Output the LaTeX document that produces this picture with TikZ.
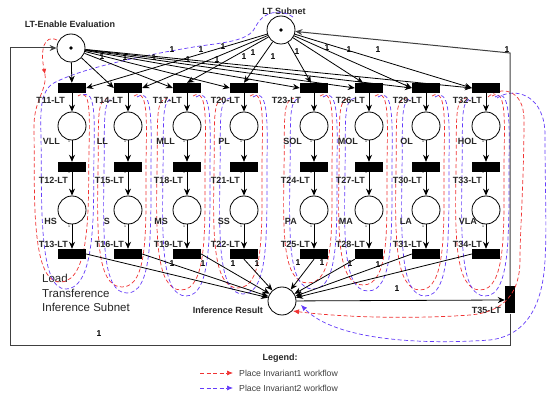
\documentclass[tikz,border=0pt]{standalone}
\usepackage{fontspec}
\setmainfont{Liberation Sans}
\usetikzlibrary{arrows.meta}
\definecolor{invred}{RGB}{240,50,50}
\definecolor{invblue}{RGB}{100,60,250}
\begin{document}
\begin{tikzpicture}[x=1pt,y=-1pt,
  place/.style={circle,draw,line width=0.8pt,minimum size=28pt,inner sep=0pt},
  token/.style={circle,fill,inner sep=0pt,minimum size=3.6pt},
  trans/.style={fill=black,minimum width=28pt,minimum height=10pt,inner sep=0pt},
  vtrans/.style={fill=black,minimum width=10pt,minimum height=27pt,inner sep=0pt},
  arc/.style={-{Stealth[length=7pt,width=6pt]},line width=0.8pt},
  frameline/.style={-{Stealth[length=7pt,width=6pt]},line width=1pt,black!75},
  lbl/.style={font=\fontsize{9}{10}\selectfont\bfseries,text=black!85,inner sep=0pt},
  one/.style={font=\fontsize{8.5}{9}\selectfont\bfseries,inner sep=0pt},
  tinyone/.style={font=\fontsize{3.5}{4}\selectfont,inner sep=0pt},
  inv1/.style={invred,dash pattern=on 4pt off 2.5pt,line width=0.7pt},
  inv2/.style={invblue,dash pattern=on 4pt off 2.5pt,line width=0.7pt}]
\useasboundingbox (0,0) rectangle (550,401);
\fill[white] (0,0) rectangle (550,401);

% main places
\node[place] (le) at (71,48) {};
\node[token] (ledot) at (le) {};
\node[place] (lts) at (281,30) {};
\node[token] (ltsdot) at (lts) {};
\node[place] (ir) at (282,301) {};
\node[vtrans] (t35) at (510,300) {};

\node[lbl] (lelab) at (70,24) {LT-Enable Evaluation};
\node[lbl] (ltslab) at (284,11) {LT Subnet};
\node[lbl,anchor=east] (irlab) at (263,310) {Inference Result};
\node[lbl,anchor=east] (t35lab) at (501,310) {T35-LT};
\node[anchor=north west,align=left,inner sep=0pt,text=black!85,
  font=\fontsize{11.5}{14.5}\selectfont] (loadlab) at (42,274) {Load\\Transference\\Inference Subnet};

% invariant workflows: column 1 and feeds
\draw[inv1,-{Latex[length=5pt,width=4.5pt]}] (57,40) .. controls (44,34) and (40,50) .. (45,74);
\draw[inv1] (45,74) .. controls (47,92) and (33,100) .. (34,130)
  .. controls (35,190) and (30,282) .. (60,282) .. controls (92,282) and (88,200) .. (89,150)
  .. controls (90,110) and (90,88) .. (78,96);
\draw[inv2] (293,17) .. controls (281,8) and (262,12) .. (256,26)
  .. controls (250,40) and (230,42) .. (200,46) .. controls (150,54) and (80,68) .. (52,84)
  .. controls (42,92) and (40,105) .. (41,135)
  .. controls (42,200) and (38,290) .. (66,289) .. controls (98,288) and (93,200) .. (94,150)
  .. controls (95,110) and (94,88) .. (81,96);

% invariant workflows: columns 2..8
\foreach \c/\B in {128/287,187/290,244/288,314/283,369/285,426/290,486/290}{
  \draw[inv1] (\c+6,96) .. controls (\c+22,86) and (\c+18,130) .. (\c+18,170)
    .. controls (\c+18,230) and (\c+20,\B) .. (\c-6,\B)
    .. controls (\c-32,\B) and (\c-31,230) .. (\c-30,170)
    .. controls (\c-29,120) and (\c-32,100) .. (\c-20,98);
  \draw[inv2] (\c+9,97) .. controls (\c+26,86) and (\c+23,130) .. (\c+23,170)
    .. controls (\c+23,236) and (\c+24,\B+6) .. (\c-1,\B+6)
    .. controls (\c-26,\B+6) and (\c-25,236) .. (\c-24,170)
    .. controls (\c-23,120) and (\c-26,100) .. (\c-14,98);
}

% return workflows to Inference Result
\coordinate (redend) at (293,311);
\coordinate (blueend) at (301,305);
\draw[inv1,-{Latex[length=6pt,width=5pt]}] (488,97) .. controls (500,86) and (524,88) .. (524,120)
  .. controls (524,180) and (520,230) .. (520,260)
  .. controls (520,292) and (505,312) .. (470,315) .. controls (400,320) and (330,316) .. (redend);
\draw[inv2,-{Latex[length=6pt,width=5pt]}] (497,98) .. controls (515,86) and (545,95) .. (545,135)
  .. controls (545,190) and (547,230) .. (545,260)
  .. controls (543,300) and (530,335) .. (490,340) .. controls (420,345) and (335,340) .. (blueend);

% columns
\foreach \i/\c/\ta/\pa/\tb/\pb/\tc/\oa/\ob/\oc in {
1/72/T11-LT/VLL/T12-LT/HS/T13-LT/7/12/15,
2/128/T14-LT/LL/T15-LT/S/T16-LT/5/20/18,
3/187/T17-LT/MLL/T18-LT/MS/T19-LT/5/12/19,
4/244/T20-LT/PL/T21-LT/SS/T22-LT/4/14/14,
5/314/T23-LT/SOL/T24-LT/PA/T25-LT/13/12/17,
6/369/T26-LT/MOL/T27-LT/MA/T28-LT/4/11/16,
7/426/T29-LT/OL/T30-LT/LA/T31-LT/4/13/14,
8/486/T32-LT/HOL/T33-LT/VLA/T34-LT/4/9/9}{
  \node[trans] (ta\i) at (\c,88) {};
  \node[place,fill=white] (pa\i) at (\c,126) {};
  \node[trans] (tb\i) at (\c,167) {};
  \node[place,fill=white] (pb\i) at (\c,210) {};
  \node[trans] (tc\i) at (\c,254) {};
  \node[lbl,anchor=east] (lta\i) at (\c-\oa,100) {\ta};
  \node[lbl,anchor=east] (lpa\i) at (\c-\ob,141) {\pa};
  \node[lbl,anchor=east] (ltb\i) at (\c-4,180) {\tb};
  \node[lbl,anchor=east] (lpb\i) at (\c-\oc,221) {\pb};
  \node[lbl,anchor=east] (ltc\i) at (\c-4,244) {\tc};
  \node[tinyone] (wa\i) at (\c-3,141) {1};
  \node[tinyone] (wb\i) at (\c-3,172) {1};
  \node[tinyone] (wc\i) at (\c-3,226) {1};
  \draw[arc] (ta\i) -- (pa\i);
  \draw[arc] (pa\i) -- (tb\i);
  \draw[arc] (tb\i) -- (pb\i);
  \draw[arc] (pb\i) -- (tc\i);
}

% arcs from LT-Enable Evaluation
\draw[arc] (le) -- (ta1);
\foreach \i in {2,...,8} {\draw[arc] (le) -- (ta\i.west);}
% arcs from LT Subnet
\draw[arc] (lts) -- (ta1.east);
\draw[arc] (lts) -- (ta2.east);
\draw[arc] (lts) -- (ta3.north);
\draw[arc] (lts) -- (ta4.north);
\draw[arc] (lts) -- ([xshift=-3pt]ta5.north);
\draw[arc] (lts) -- ([xshift=-6pt]ta6.north);
\draw[arc] (lts) -- (ta7.west);
\draw[arc] (lts) -- (ta8.west);
% arcs to Inference Result
\draw[arc] (tc1.east) -- (ir);
\draw[arc] (tc2.east) -- (ir);
\draw[arc] (tc3.east) -- (ir);
\draw[arc] (tc4.south) -- (ir);
\draw[arc] (tc5.south) -- (ir);
\draw[arc] (tc6.south west) -- (ir);
\draw[arc] (tc7.west) -- (ir);
\draw[arc] (tc8.west) -- (ir);
\draw[arc] (ir) -- (t35.west);

% frame feedback
\coordinate (br) at (510,346);
\coordinate (bl) at (10,346);
\coordinate (tl) at (10,48);
\coordinate (tr) at (510,53);
\draw[frameline] (t35.south) -- (br) -- (bl) -- (tl) -- (le.west);
\draw[frameline] (t35.north) -- (tr) -- (lts);

% weight labels
\foreach \x/\y [count=\k] in {102/57,125/58,154/58,188/60,217/60,172/50,201/50,223/47,244/57,253/53,273/57,297/52,327/48,349/50,378/50,507/50,
  172/264,203/264,233/264,257/264,298/263,322/263,350/264,378/265,397/289,99/334}
  {\node[one] (w\k) at (\x,\y) {1};}

% legend
\node[lbl] (legend) at (280,358) {Legend:};
\coordinate (r1a) at (200,373); \coordinate (r1b) at (233,373);
\coordinate (b1a) at (200,388); \coordinate (b1b) at (233,388);
\draw[inv1,-{Latex[length=6pt,width=5pt]}] (r1a) -- (r1b);
\draw[inv2,-{Latex[length=6pt,width=5pt]}] (b1a) -- (b1b);
\node[anchor=west,inner sep=0pt,text=black!75,font=\fontsize{8.7}{10}\selectfont] (lg1) at (239,373) {Place Invariant1 workflow};
\node[anchor=west,inner sep=0pt,text=black!75,font=\fontsize{8.7}{10}\selectfont] (lg2) at (239,388) {Place Invariant2 workflow};
\end{tikzpicture}
\end{document}
